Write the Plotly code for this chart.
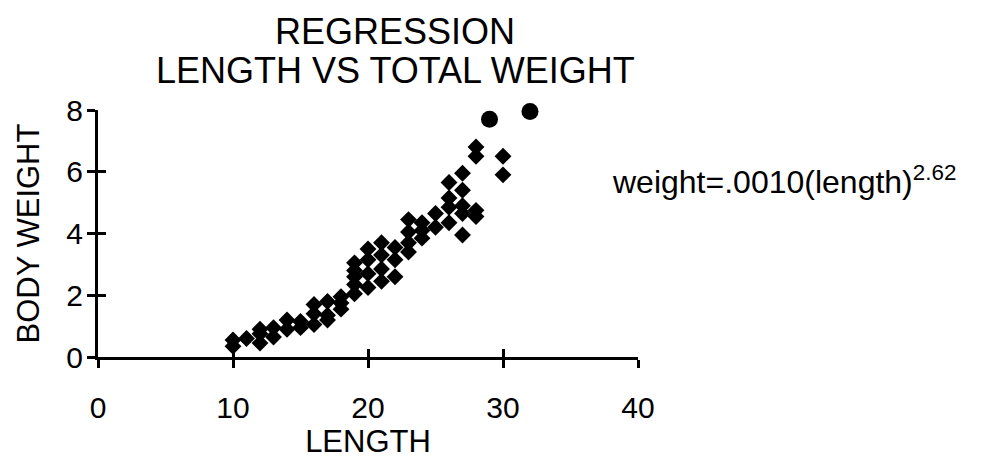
import plotly.graph_objects as go

# Diamond points: length and body weight
length = [10, 10, 11, 12, 12, 12, 13, 13, 14, 14, 15, 15,
          16, 16, 16, 17, 17, 17, 18, 18, 18,
          19, 19, 19, 19, 19, 20, 20, 20, 20,
          21, 21, 21, 21, 22, 22, 22,
          23, 23, 23, 23, 24, 24, 24, 25, 25,
          26, 26, 26, 26, 27, 27, 27, 27, 27,
          28, 28, 28, 28, 30, 30]
weight = [0.35, 0.55, 0.6, 0.45, 0.75, 0.9, 0.65, 0.95, 0.9, 1.2, 0.95, 1.15,
          1.05, 1.4, 1.7, 1.2, 1.35, 1.8, 1.55, 1.75, 1.95,
          2.05, 2.35, 2.6, 2.8, 3.05, 2.25, 2.7, 3.15, 3.5,
          2.45, 2.85, 3.3, 3.7, 2.6, 3.15, 3.55,
          3.4, 3.7, 4.05, 4.45, 3.85, 4.1, 4.35, 4.2, 4.65,
          4.35, 4.85, 5.15, 5.65, 3.95, 4.65, 4.9, 5.4, 5.95,
          4.55, 4.75, 6.5, 6.8, 5.9, 6.5]

# Circle points
circle_length = [29, 32]
circle_weight = [7.7, 7.95]

x_ticks = [0, 10, 20, 30, 40]
y_ticks = [0, 2, 4, 6, 8]

FONT = "Liberation Sans, Arial, Helvetica, sans-serif"

fig = go.Figure()
fig.add_trace(go.Scatter(
    x=length, y=weight, mode="markers", cliponaxis=False,
    marker=dict(symbol="diamond", size=13, color="black", line=dict(width=0)),
    showlegend=False, hoverinfo="skip"))
fig.add_trace(go.Scatter(
    x=circle_length, y=circle_weight, mode="markers", cliponaxis=False,
    marker=dict(symbol="circle", size=17, color="black", line=dict(width=0)),
    xaxis="x2", yaxis="y2", showlegend=False, hoverinfo="skip"))

axis_common = dict(showgrid=False, zeroline=False, linecolor="black", linewidth=3,
                   tickcolor="black", tickwidth=2.5, ticklen=8, automargin=False)

fig.update_layout(
    width=998, height=462,
    paper_bgcolor="white", plot_bgcolor="white",
    margin=dict(l=90, r=368, t=102, b=113, autoexpand=False),
    font=dict(family=FONT, color="black"),
    xaxis=dict(range=[0, 40], tickvals=x_ticks, ticks="outside", showline=True,
               tickfont=dict(size=30), ticklabelstandoff=14,
               title=dict(text="LENGTH", font=dict(size=31), standoff=6),
               **axis_common),
    yaxis=dict(range=[0, 8], tickvals=y_ticks, ticks="outside", showline=True,
               tickfont=dict(size=30), ticklabelstandoff=-2,
               title=dict(text="BODY WEIGHT", font=dict(size=31), standoff=18),
               **axis_common),
    xaxis2=dict(range=[0, 40], tickvals=x_ticks, ticks="inside", overlaying="x",
                anchor="y2", showticklabels=False, showline=False, **axis_common),
    yaxis2=dict(range=[0, 8], tickvals=y_ticks, ticks="inside", overlaying="y",
                anchor="x2", side="left", showticklabels=False, showline=False,
                **axis_common),
    annotations=[
        dict(text="REGRESSION", xref="paper", yref="paper", x=0.55, y=(357 - 31) / 247,
             xanchor="center", yanchor="middle", showarrow=False,
             font=dict(size=36)),
        dict(text="LENGTH VS TOTAL WEIGHT", xref="paper", yref="paper", x=0.55,
             y=(357 - 71) / 247, xanchor="center", yanchor="middle", showarrow=False,
             font=dict(size=36)),
        dict(text="weight=.0010(length)<sup>2.62</sup>", xref="paper", yref="paper",
             x=(610 - 98) / 540, y=(357 - 180) / 247, xanchor="left", yanchor="middle",
             showarrow=False, font=dict(size=32)),
    ],
)

fig.write_html("out.html")
